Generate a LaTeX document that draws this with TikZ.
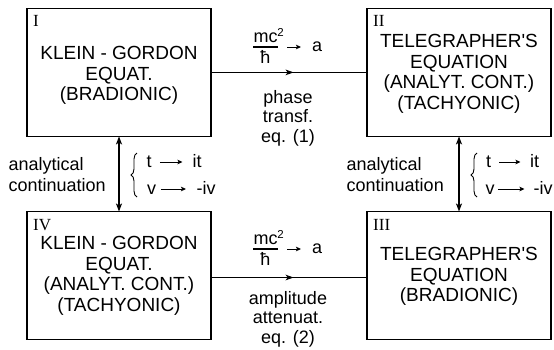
\documentclass[tikz,border=0pt]{standalone}
\usepackage{fontspec}
\setmainfont{Liberation Sans}[Ligatures=TeXOff]
\newfontfamily\numeralfont{Liberation Serif}
\usetikzlibrary{arrows.meta,decorations.markings,decorations.pathreplacing}

\tikzset{
  eqbox/.style={draw, line width=1.6pt, minimum width=184pt, minimum height=128pt,
                inner sep=0pt, outer sep=0pt},
  eqtext/.style={font=\fontsize{19}{20.5}\selectfont, align=center, inner sep=0pt, anchor=north},
  numeral/.style={font=\numeralfont\fontsize{17}{17}\selectfont, inner sep=0pt, anchor=base west},
  lbl/.style={font=\fontsize{18}{19.5}\selectfont, inner sep=0pt},
  sidelbl/.style={font=\fontsize{18}{20.5}\selectfont, inner sep=0pt, align=left, anchor=north west},
  conn/.style={line width=1.6pt},
  bigtip/.tip={Stealth[length=8pt,width=6pt,inset=2pt]},
  midarrow/.style={conn, postaction={decorate},
    decoration={markings, mark=at position 0.53 with {\arrow{Stealth[length=8pt,width=5.5pt,inset=2pt]}}}},
  txtarrow/.style={line width=1pt, -{Stealth[length=5pt,width=4.5pt,inset=1pt]}},
  fracbar/.style={line width=1.1pt},
  bracestyle/.style={line width=0.9pt, decorate, decoration={brace, amplitude=6pt}}
}

\begin{document}
\begin{tikzpicture}[x=1pt, y=-1pt]
  \useasboundingbox (0,0) rectangle (554,349);

  % the four equation boxes
  \node[eqbox] (I)   at (119, 72.4)  {};
  \node[eqbox] (II)  at (459, 72.4)  {};
  \node[eqbox] (IV)  at (119, 275.5) {};
  \node[eqbox] (III) at (459, 275.5) {};

  % quadrant numerals
  \node[numeral] (nI)   at ([shift={(6pt,-18pt)}]I.north west)   {I};
  \node[numeral] (nII)  at ([shift={(6pt,-18pt)}]II.north west)  {II};
  \node[numeral] (nIV)  at ([shift={(6pt,-18.5pt)}]IV.north west) {IV};
  \node[numeral] (nIII) at ([shift={(6pt,-18.5pt)}]III.north west) {III};

  % box contents
  \node[eqtext] (tI)   at (119, 46.4)  {KLEIN - GORDON\\EQUAT.\\(BRADIONIC)};
  \node[eqtext] (tII)  at (459, 34.4)  {TELEGRAPHER'S\\EQUATION\\(ANALYT. CONT.)\\(TACHYONIC)};
  \node[eqtext] (tIV)  at (119, 236.4) {KLEIN - GORDON\\EQUAT.\\(ANALYT. CONT.)\\(TACHYONIC)};
  \node[eqtext] (tIII) at (459, 247.4) {TELEGRAPHER'S\\EQUATION\\(BRADIONIC)};

  % horizontal transformations
  \draw[midarrow] (I.east) -- (II.west);
  \draw[midarrow] ([yshift=-2pt]IV.east) -- ([yshift=-2pt]III.west);

  % upper substitution mc^2/hbar -> a
  \node[lbl, anchor=base] (numT) at (265.5, 42) {mc\rlap{\raisebox{5.5pt}{\fontsize{11.5}{11.5}\selectfont 2}}};
  \node[lbl, anchor=base] (denT) at (265.5, 63) {ħ};
  \node[lbl, anchor=base west] (aT) at (312, 51) {a};
  \draw[fracbar] ([yshift=-5pt]numT.base west) -- ([yshift=-5pt]numT.base east);
  \draw[txtarrow] ([xshift=9.5pt,yshift=-5pt]numT.base east) -- ([xshift=-11pt,yshift=4pt]aT.base west);
  \node[lbl, align=center, anchor=north] (phT) at (288, 90.1) {phase\\transf.\\eq. (1)};

  % lower substitution mc^2/hbar -> a
  \node[lbl, anchor=base] (numB) at (265.5, 244) {mc\rlap{\raisebox{5.5pt}{\fontsize{11.5}{11.5}\selectfont 2}}};
  \node[lbl, anchor=base] (denB) at (265.5, 265) {ħ};
  \node[lbl, anchor=base west] (aB) at (312, 253) {a};
  \draw[fracbar] ([yshift=-5pt]numB.base west) -- ([yshift=-5pt]numB.base east);
  \draw[txtarrow] ([xshift=9.5pt,yshift=-5pt]numB.base east) -- ([xshift=-11pt,yshift=4pt]aB.base west);
  \node[lbl, align=center, anchor=north] (amB) at (288, 291.1) {amplitude\\attenuat.\\eq. (2)};

  % vertical analytical continuations
  \draw[conn, bigtip-bigtip] (I.south) -- (IV.north);
  \draw[conn, bigtip-bigtip] (II.south) -- (III.north);

  % left continuation labels
  \node[sidelbl] (acL) at (8.5, 157.6) {analytical\\continuation};
  \draw[bracestyle] (137,197) -- (137,153);
  \node[lbl, anchor=base west] (tL)  at (146.5, 167) {t};
  \node[lbl, anchor=base west] (itL) at (192.5, 167) {it};
  \node[lbl, anchor=base west] (vL)  at (147, 194)   {v};
  \node[lbl, anchor=base west] (ivL) at (196.5, 194) {-iv};
  \draw[txtarrow] ([xshift=8pt,yshift=5pt]tL.base east) -- ([xshift=-10pt,yshift=5pt]itL.base west);
  \draw[txtarrow] ([xshift=4.5pt,yshift=5pt]vL.base east) -- ([xshift=-10.5pt,yshift=5pt]ivL.base west);

  % right continuation labels
  \node[sidelbl] (acR) at (346.5, 157.6) {analytical\\continuation};
  \draw[bracestyle] (477,197) -- (477,153);
  \node[lbl, anchor=base west] (tR)  at (486, 167)   {t};
  \node[lbl, anchor=base west] (itR) at (530, 167)   {it};
  \node[lbl, anchor=base west] (vR)  at (485.5, 194) {v};
  \node[lbl, anchor=base west] (ivR) at (533.5, 194) {-iv};
  \draw[txtarrow] ([xshift=8pt,yshift=5pt]tR.base east) -- ([xshift=-9.5pt,yshift=5pt]itR.base west);
  \draw[txtarrow] ([xshift=3pt,yshift=5pt]vR.base east) -- ([xshift=-9pt,yshift=5pt]ivR.base west);
\end{tikzpicture}
\end{document}
